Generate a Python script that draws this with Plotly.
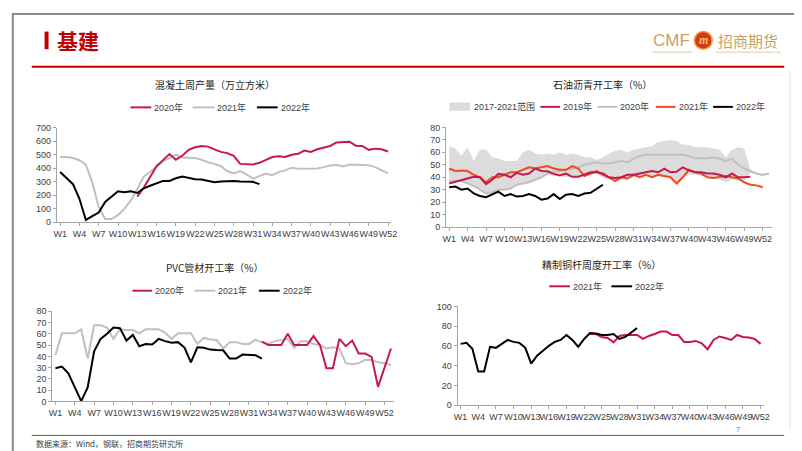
import plotly.graph_objects as go

W, H = 802, 451
def px(x): return x / W
def py(y): return 1 - y / H

# ---------------- categories ----------------
weeks52 = ["W%d" % i for i in range(1, 53)]
weeks53 = ["W%d" % i for i in range(1, 54)]
week_ticks = ["W%d" % i for i in range(1, 53, 3)]

# ---------------- 混凝土周产量 (万立方米) ----------------
concrete_2020 = [190, 255, 335, 415, 460, 505, 463, 492, 536, 555, 565, 560, 540, 521, 512, 492,
                 432, 427, 427, 440, 463, 483, 488, 483, 500, 507, 531, 521, 540, 555, 565, 591,
                 596, 596, 567, 565, 536, 545, 540, 524]          # W13-W52
concrete_2021 = [483, 483, 475, 459, 427, 295, 113, 24, 24, 53, 101, 162, 246, 338, 372, 415,
                 451, 475, 500, 480, 476, 476, 463, 444, 432, 415, 379, 362, 379, 355, 323, 343,
                 360, 348, 372, 384, 403, 396, 396, 396, 398, 408, 420, 425, 413, 427, 427, 427,
                 422, 408, 386, 362]                              # W1-W52
concrete_2022 = [372, 330, 282, 174, 17, 46, 72, 150, 193, 229, 222, 229, 217, 251, 270, 287,
                 306, 306, 326, 338, 328, 319, 316, 309, 297, 302, 306, 306, 302, 302, 299, 282]  # W1-W32

# ---------------- 石油沥青开工率 (%) ----------------
asphalt_upper = [65, 63, 57, 64, 53, 62, 62, 56, 55, 53, 53, 53, 60, 62, 59, 58, 59, 58, 60, 58,
                 59, 58, 56, 56, 54, 56, 59, 61, 62, 60, 62, 63, 64, 65, 68, 69, 70, 69, 66, 66,
                 64, 64, 64, 63, 62, 56, 62, 64, 63, 46, 43, 42, 43]   # W1-W53
asphalt_lower = [35, 36, 37, 35, 33, 30, 26, 28, 30, 30, 31, 34, 35, 36, 38, 40, 42, 41, 41, 40,
                 40, 40, 41, 42, 43, 40, 38, 37, 38, 38, 40, 40, 41, 40, 41, 40, 40, 35, 40, 42,
                 42, 41, 40, 39, 38, 36, 38, 38, 37, 44, 42, 41, 42]   # W1-W53
asphalt_2019 = [35, 36.5, 38, 39.5, 40.4, 40, 34.5, 38, 42.7, 42, 40, 43.5, 42, 43, 47, 45, 44.8,
                42.7, 41.4, 43, 40.4, 40.4, 42, 44, 44, 43, 40, 39.5, 40, 42, 42, 43, 44, 45, 44,
                47, 44, 44.5, 48, 45.5, 44, 44, 43, 43, 42, 40, 43, 40, 40, 40.5]  # W1-W50
asphalt_2020 = [37, 37, 37, 35, 33, 30, 27, 28, 30, 30, 31, 34, 35, 36, 38, 40, 43, 44, 45, 46,
                47, 48, 50, 51, 52, 51, 51, 52, 53, 52, 55, 57, 58, 58, 58, 58, 58, 58.5, 58, 57,
                55, 55.5, 55, 56, 55, 53, 55, 50, 47, 45, 43, 42, 43]   # W1-W53
asphalt_2021 = [47, 45, 45.5, 45, 42, 40, 36, 40, 40, 42, 44, 44, 46, 48, 47, 48, 49, 47, 46, 46,
                49, 47, 41, 43, 45, 42, 40, 37, 40, 39, 42, 40, 42, 40, 42, 41, 40, 35, 40, 46,
                44, 43, 40, 39.5, 40, 41, 40, 39, 36, 34, 33.5, 32]     # W1-W52
asphalt_2022 = [32, 32.5, 30, 31, 27, 25, 24, 26, 28.5, 25, 26.5, 24.5, 25, 26.5, 25, 22, 23,
                26.5, 22.5, 26, 26.5, 25, 27, 27.5, 30.5, 34]           # W1-W26

# ---------------- PVC管材开工率 (%) ----------------
pvc_2020 = [53, 50, 50, 50, 60, 50, 50, 50, 58, 50, 29.5, 29.5, 55.5, 49, 54, 42.5, 42.5, 39.6,
            13, 30, 47]                                                 # W33-W53
pvc_2021 = [41, 60.5, 60.5, 60.5, 64, 38, 67.6, 67.6, 65.6, 55.5, 64, 63.3, 63.3, 60.5, 64, 64,
            64, 61, 55.5, 60.5, 60.5, 60.5, 51, 56.5, 55, 54.5, 47, 52.6, 52.6, 51, 51, 54.6,
            52.6, 51, 53.5, 54.6, 55.5, 47.4, 53.5, 53.5, 51, 50, 47, 48, 47, 34, 33, 34, 37,
            36.7, 34.7, 34, 32.4]                                      # W1-W53
pvc_2022 = [29.5, 31, 25, 12.5, 0.3, 12.4, 44.5, 55.5, 60, 65.6, 65, 54, 59, 49, 51, 50.6, 55.5,
            53.5, 52, 52.6, 47.8, 34.6, 48, 47.6, 46, 45.6, 45.4, 38, 38, 41.6, 41.6, 41, 38]  # W1-W33

# ---------------- 精制铜杆周度开工率 (%) ----------------
copper_2021 = [72, 72, 69, 68, 63.5, 70, 71, 71, 71, 67, 70, 72, 74.5, 74.5, 71, 71, 64, 64, 65,
               62.5, 56.5, 66, 69.5, 68, 66, 71, 69, 68.5, 67, 62]       # W23-W52
copper_2022 = [62, 63, 57, 34, 34, 59, 58, 62, 66, 64, 63, 58, 42, 50, 55, 60, 64, 66, 71, 66,
               59, 67, 73, 72.5, 71, 71, 72, 67, 69, 73.5, 78]          # W1-W31

# ---------------- styles ----------------
RED = "#C8174F"
GRAY = "#C0C0C0"
BLACK = "#000000"
ORANGE = "#EE4B1E"
BAND = "#DCDCDC"
AXIS = "#A6A6A6"
TXT = "#404040"
TICKFONT = dict(family="Arial, Liberation Sans, sans-serif", size=9, color=TXT)
CJK = "Noto Sans CJK SC, sans-serif"

fig = go.Figure()

def line(x, y, color, name, ax, width=2):
    fig.add_trace(go.Scatter(x=x, y=y, mode="lines", name=name, showlegend=False,
                             line=dict(color=color, width=width),
                             xaxis="x" + ax, yaxis="y" + ax, hoverinfo="skip"))

# chart 1
line(weeks52, concrete_2021, GRAY, "2021年", "")
line(weeks52[12:], concrete_2020, RED, "2020年", "")
line(weeks52[:len(concrete_2022)], concrete_2022, BLACK, "2022年", "")

# chart 2
fig.add_trace(go.Scatter(x=weeks53, y=asphalt_lower, mode="lines", line=dict(width=0, color=BAND),
                         showlegend=False, xaxis="x2", yaxis="y2", hoverinfo="skip"))
fig.add_trace(go.Scatter(x=weeks53, y=asphalt_upper, mode="lines", line=dict(width=0, color=BAND),
                         fill="tonexty", fillcolor=BAND, name="2017-2021范围", showlegend=False,
                         xaxis="x2", yaxis="y2", hoverinfo="skip"))
line(weeks53, asphalt_2020, GRAY, "2020年", "2")
line(weeks53[:len(asphalt_2021)], asphalt_2021, ORANGE, "2021年", "2")
line(weeks53[:len(asphalt_2019)], asphalt_2019, RED, "2019年", "2")
line(weeks53[:len(asphalt_2022)], asphalt_2022, BLACK, "2022年", "2")

# chart 3
line(weeks53, pvc_2021, GRAY, "2021年", "3")
line(weeks53[:len(pvc_2022)], pvc_2022, BLACK, "2022年", "3")
line(weeks53[32:], pvc_2020, RED, "2020年", "3")

# chart 4
line(weeks52[22:], copper_2021, RED, "2021年", "4")
line(weeks52[:len(copper_2022)], copper_2022, BLACK, "2022年", "4")

def xax(cats, x0, x1, anchor):
    return dict(type="category", categoryorder="array", categoryarray=cats,
                domain=[px(x0), px(x1)], anchor=anchor, range=[-0.5, len(cats) - 0.5],
                showline=True, linecolor=AXIS, linewidth=1, ticks="outside", ticklen=3,
                tickcolor=AXIS, tickvals=week_ticks, ticktext=week_ticks, tickangle=0,
                tickfont=TICKFONT, showgrid=False, zeroline=False, fixedrange=True)

def yax(rng, dt, ybot, ytop, anchor):
    return dict(domain=[py(ybot), py(ytop)], anchor=anchor, range=rng, dtick=dt, tick0=0,
                showline=True, linecolor=AXIS, linewidth=1, ticks="outside", ticklen=3,
                tickcolor=AXIS, tickfont=TICKFONT, showgrid=False, zeroline=False,
                fixedrange=True)

shapes = []
annotations = []

def hline(x0, x1, y, color, width):
    shapes.append(dict(type="line", xref="paper", yref="paper", x0=px(x0), x1=px(x1),
                       y0=py(y), y1=py(y), line=dict(color=color, width=width)))

def text(x, y, s, size=9, color=TXT, family=CJK, xanchor="left", bold=False):
    if bold:
        s = "<b>" + s + "</b>"
    annotations.append(dict(x=px(x), y=py(y), xref="paper", yref="paper", text=s,
                            showarrow=False, xanchor=xanchor, yanchor="middle",
                            font=dict(size=size, color=color, family=family)))

# slide frame
shapes.append(dict(type="rect", xref="paper", yref="paper", x0=0.001, x1=0.999, y0=0.002, y1=0.998,
                   line=dict(color="#8C8C8C", width=2), layer="above"))
# header
shapes.append(dict(type="rect", xref="paper", yref="paper", x0=px(33), x1=px(37), y0=py(37), y1=py(19),
                   fillcolor="#C00000", line=dict(width=0)))
text(44, 28, "基建", size=21, color="#C00000", family=CJK, bold=True)
hline(20, 782, 55, "#C00000", 2)
GOLD = "#C9A15F"
text(668, 28, "CMF", size=17, color=GOLD, family="Liberation Sans Narrow, Arial Narrow, Liberation Sans",
     xanchor="center")
shapes.append(dict(type="circle", xref="paper", yref="paper", x0=px(691), x1=px(709), y0=py(37), y1=py(19),
                   fillcolor="#D6381C", line=dict(color="#E8A33A", width=1.5)))
text(700, 28, "<i>m</i>", size=12, color="#F2C45A", family="Liberation Serif, serif", xanchor="center", bold=True)
text(745, 28, "招商期货", size=15, color=GOLD, family=CJK, xanchor="center")
hline(648, 689, 40, "#DCCBA6", 1)
hline(712, 778, 40, "#DCCBA6", 1)

# right faint vertical line
shapes.append(dict(type="line", xref="paper", yref="paper", x0=px(788), x1=px(788), y0=py(60), y1=py(425),
                   line=dict(color="#E3E3E3", width=1)))

# footer
hline(20, 782, 432, "#595959", 1)
text(22, 440, "数据来源：Wind，钢联，招商期货研究所", size=8, color=TXT)
text(736, 426, "7", size=8, color="#7F7F7F", family="Arial, Liberation Sans", xanchor="center")

# chart titles
text(206, 73, "混凝土周产量（万立方米）", size=10, color="#262626", xanchor="center")
text(598, 73, "石油沥青开工率（%）", size=10, color="#262626", xanchor="center")
text(206, 260, "PVC管材开工率（%）", size=10, color="#262626", xanchor="center")
text(597, 257, "精制铜杆周度开工率（%）", size=10, color="#262626", xanchor="center")

# manual legends
LEGFONT = "Arial, Liberation Sans, Noto Sans CJK SC, sans-serif"
def leg(x0, x1, y, color, label):
    hline(x0, x1, y, color, 2)
    text(x1 + 1, y, label, size=9, color=TXT, family=LEGFONT)

leg(120, 141, 96.5, RED, "2020年")
leg(183, 205, 96.5, GRAY, "2021年")
leg(248, 269, 96.5, BLACK, "2022年")

shapes.append(dict(type="rect", xref="paper", yref="paper", x0=px(443), x1=px(464), y0=py(100), y1=py(91.5),
                   fillcolor=BAND, line=dict(width=0)))
text(466, 96, "2017-2021范围", size=9, color=TXT, family=LEGFONT)
leg(535, 555, 96, RED, "2019年")
leg(593, 613, 96, GRAY, "2020年")
leg(652, 672, 96, ORANGE, "2021年")
leg(710, 730, 96, BLACK, "2022年")

leg(122, 142, 284, RED, "2020年")
leg(185, 206, 284, GRAY, "2021年")
leg(250, 271, 284, BLACK, "2022年")

leg(544, 565, 279.5, RED, "2021年")
leg(607, 628, 279.5, BLACK, "2022年")

fig.update_layout(
    width=W, height=H, margin=dict(l=0, r=0, t=0, b=0),
    paper_bgcolor="white", plot_bgcolor="white", showlegend=False,
    xaxis=xax(weeks52, 45.5, 384, "y"),
    yaxis=yax([0, 700], 100, 214, 117.3, "x"),
    xaxis2=xax(weeks53, 439.6, 769.5, "y2"),
    yaxis2=yax([0, 80], 10, 219, 117, "x2"),
    xaxis3=xax(weeks53, 40.7, 387, "y3"),
    yaxis3=yax([0, 80], 10, 397.3, 305, "x3"),
    xaxis4=xax(weeks52, 451.3, 761, "y4"),
    yaxis4=yax([0, 100], 20, 401, 300, "x4"),
    shapes=shapes, annotations=annotations,
)

fig.write_html("out.html")
